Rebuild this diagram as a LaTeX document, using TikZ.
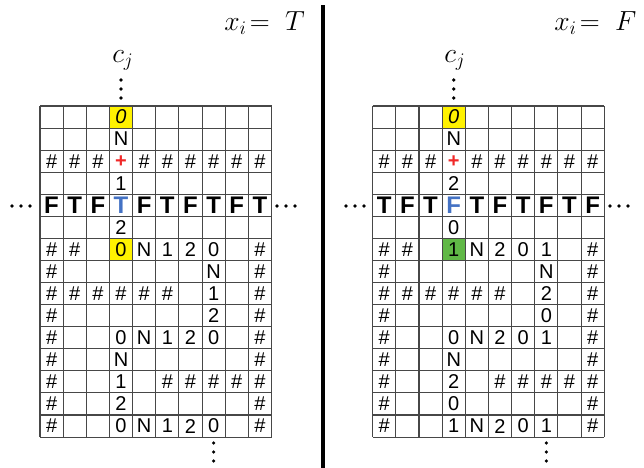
\documentclass[tikz,border=0pt]{standalone}
\usepackage{fontspec}
\setmainfont{Liberation Sans}
\definecolor{hlyellow}{RGB}{255,242,0}
\definecolor{hlgreen}{RGB}{96,184,70}
\definecolor{vblue}{RGB}{68,114,196}
\definecolor{pred}{RGB}{240,40,40}
\begin{document}
\begin{tikzpicture}[x=0.75pt,y=-0.75pt,
  cell/.style={inner sep=0pt, font=\fontsize{15}{15}\selectfont},
  bigcell/.style={inner sep=0pt, font=\fontsize{18}{18}\selectfont\bfseries},
  gl/.style={draw=black!72, line width=0.8pt},
  dotm/.style={fill=black},
  mathlab/.style={inner sep=0pt, anchor=base west, font=\fontsize{20}{20}\selectfont},
  sep/.style={line width=2.3pt}]
\useasboundingbox (0,0) rectangle (644,468);
\def\cw{23.15}\def\ch{22.07}\def\gy{106}
\def\empt{x}
\newcommand\gridlines[1]{%
  \foreach \i in {0,...,10} \draw[gl] ({#1+\i*\cw},\gy) -- ({#1+\i*\cw},{\gy+15*\ch});
  \foreach \j in {0,...,15} \draw[gl] (#1,{\gy+\j*\ch}) -- ({#1+10*\cw},{\gy+\j*\ch});
}
\newcommand\cellrow[4]{%
  \foreach \t [count=\k from 0] in {#4} {%
    \ifx\t\empt\else
      \node[cell] (#1-#3-\k) at ({#2+(\k+0.5)*\cw},{\gy+(#3+0.5)*\ch}) {\t};
    \fi}%
}
% ---------- left grid ----------
\def\xa{40}
\fill[hlyellow] ({\xa+3*\cw},{\gy}) rectangle ({\xa+4*\cw},{\gy+\ch});
\fill[hlyellow] ({\xa+3*\cw},{\gy+6*\ch}) rectangle ({\xa+4*\cw},{\gy+7*\ch});
\gridlines{\xa}
\node[cell] (L-0-3) at ({\xa+3.5*\cw},{\gy+0.5*\ch}) {\textit{0}};
\cellrow{L}{\xa}{1}{x,x,x,N,x,x,x,x,x,x}
\cellrow{L}{\xa}{2}{\#,\#,\#,x,\#,\#,\#,\#,\#,\#}
\node[cell, text=pred, font=\fontsize{15}{15}\selectfont\bfseries] (L-2-3) at ({\xa+3.5*\cw},{\gy+2.5*\ch}) {+};
\cellrow{L}{\xa}{3}{x,x,x,1,x,x,x,x,x,x}
\foreach \t [count=\k from 0] in {F,T,F,x,F,T,F,T,F,T}
  {\ifx\t\empt\else\node[bigcell] (L-4-\k) at ({\xa+(\k+0.5)*\cw},{\gy+4.5*\ch}) {\t};\fi}
\node[bigcell, text=vblue] (L-4-3) at ({\xa+3.5*\cw},{\gy+4.5*\ch}) {T};
\cellrow{L}{\xa}{5}{x,x,x,2,x,x,x,x,x,x}
\cellrow{L}{\xa}{6}{\#,\#,x,0,N,1,2,0,x,\#}
\cellrow{L}{\xa}{7}{\#,x,x,x,x,x,x,N,x,\#}
\cellrow{L}{\xa}{8}{\#,\#,\#,\#,\#,\#,x,1,x,\#}
\cellrow{L}{\xa}{9}{\#,x,x,x,x,x,x,2,x,\#}
\cellrow{L}{\xa}{10}{\#,x,x,0,N,1,2,0,x,\#}
\cellrow{L}{\xa}{11}{\#,x,x,N,x,x,x,x,x,\#}
\cellrow{L}{\xa}{12}{\#,x,x,1,x,\#,\#,\#,\#,\#}
\cellrow{L}{\xa}{13}{\#,x,x,2,x,x,x,x,x,\#}
\cellrow{L}{\xa}{14}{\#,x,x,0,N,1,2,0,x,\#}
% ---------- right grid ----------
\def\xb{372.7}
\fill[hlyellow] ({\xb+3*\cw},{\gy}) rectangle ({\xb+4*\cw},{\gy+\ch});
\fill[hlgreen] ({\xb+3*\cw},{\gy+6*\ch}) rectangle ({\xb+4*\cw},{\gy+7*\ch});
\gridlines{\xb}
\node[cell] (R-0-3) at ({\xb+3.5*\cw},{\gy+0.5*\ch}) {\textit{0}};
\cellrow{R}{\xb}{1}{x,x,x,N,x,x,x,x,x,x}
\cellrow{R}{\xb}{2}{\#,\#,\#,x,\#,\#,\#,\#,\#,\#}
\node[cell, text=pred, font=\fontsize{15}{15}\selectfont\bfseries] (R-2-3) at ({\xb+3.5*\cw},{\gy+2.5*\ch}) {+};
\cellrow{R}{\xb}{3}{x,x,x,2,x,x,x,x,x,x}
\foreach \t [count=\k from 0] in {T,F,T,x,T,F,T,F,T,F}
  {\ifx\t\empt\else\node[bigcell] (R-4-\k) at ({\xb+(\k+0.5)*\cw},{\gy+4.5*\ch}) {\t};\fi}
\node[bigcell, text=vblue] (R-4-3) at ({\xb+3.5*\cw},{\gy+4.5*\ch}) {F};
\cellrow{R}{\xb}{5}{x,x,x,0,x,x,x,x,x,x}
\cellrow{R}{\xb}{6}{\#,\#,x,1,N,2,0,1,x,\#}
\cellrow{R}{\xb}{7}{\#,x,x,x,x,x,x,N,x,\#}
\cellrow{R}{\xb}{8}{\#,\#,\#,\#,\#,\#,x,2,x,\#}
\cellrow{R}{\xb}{9}{\#,x,x,x,x,x,x,0,x,\#}
\cellrow{R}{\xb}{10}{\#,x,x,0,N,2,0,1,x,\#}
\cellrow{R}{\xb}{11}{\#,x,x,N,x,x,x,x,x,\#}
\cellrow{R}{\xb}{12}{\#,x,x,2,x,\#,\#,\#,\#,\#}
\cellrow{R}{\xb}{13}{\#,x,x,0,x,x,x,x,x,\#}
\cellrow{R}{\xb}{14}{\#,x,x,1,N,2,0,1,x,\#}
% ---------- dots ----------
\foreach \y in {80,89,98} {\fill[dotm] ({\xa+3.5*\cw},\y) circle (1.8); \fill[dotm] ({\xb+3.5*\cw},\y) circle (1.8);}
\foreach \y in {443,452,461} {\fill[dotm] ({\xa+7.5*\cw},\y) circle (1.8); \fill[dotm] ({\xb+7.5*\cw},\y) circle (1.8);}
\foreach \x in {12,21,30,277,286,295,346,355,364,610,619,628} \fill[dotm] (\x,206) circle (1.8);
% ---------- labels ----------
\node[mathlab] (cjL) at (112,62) {$c_j$};
\node[mathlab] (cjR) at (444,62) {$c_j$};
\node[mathlab] (xiT) at (224,30) {$x_i\!=\;T$};
\node[mathlab] (xiF) at (554,30) {$x_i\!=\;F$};
% ---------- separator ----------
\coordinate (sepTop) at (323,5);
\coordinate (sepBot) at (323,468);
\draw[sep] (sepTop) -- (sepBot);
\end{tikzpicture}
\end{document}
